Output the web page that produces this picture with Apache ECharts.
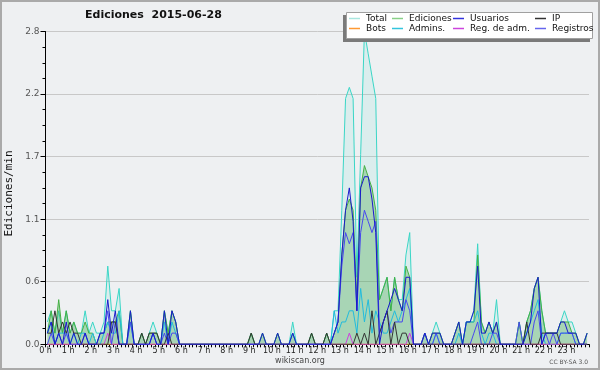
<!DOCTYPE html>
<html><head><meta charset="utf-8">
<script src="https://cdn.jsdelivr.net/npm/echarts@6/dist/echarts.min.js"></script>
<style>html,body{margin:0;padding:0;background:#eef0f2}#c{width:600px;height:370px}</style>
</head><body><div id="c"></div>
<script>
// counts of actions per 10-minute bin (144 bins), one row per hour
const BIN_MINUTES = 10;
const total = [
 2,3,1,3,1,3, 1,2,1,1,3,1, 2,1,1,2,7,3, 3,5,0,0,3,0, 0,1,0,1,2,1, 0,3,1,3,2,0,
 0,0,0,0,0,0, 0,0,0,0,0,0, 0,0,0,0,0,0, 1,0,0,1,0,0, 0,1,0,0,0,2, 0,0,0,0,1,0,
 0,0,1,0,3,3, 12,22,23,22,6,17, 28,26,24,22,4,5, 6,3,6,4,4,8, 10,0,0,0,1,0, 1,2,1,0,0,0,
 1,2,0,2,2,3, 9,2,1,2,1,4, 0,0,0,0,0,2, 0,2,3,5,6,3, 1,1,1,1,2,3, 2,2,1,0,0,1
];
const ediciones = [
 1,3,1,4,1,3, 1,2,1,1,2,1, 1,0,1,1,2,2, 2,3,0,0,3,0, 0,1,0,1,1,1, 0,3,1,3,2,0,
 0,0,0,0,0,0, 0,0,0,0,0,0, 0,0,0,0,0,0, 1,0,0,1,0,0, 0,1,0,0,0,1, 0,0,0,0,1,0,
 0,0,1,0,1,2, 8,12,13,12,4,14, 16,15,14,12,4,5, 6,3,6,4,3,7, 6,0,0,0,1,0, 1,1,1,0,0,0,
 1,2,0,2,2,2, 8,2,1,2,1,2, 0,0,0,0,0,2, 0,2,3,5,6,3, 1,1,1,1,2,2, 2,1,1,0,0,1
];
const usuarios = [
 1,2,0,1,0,2, 0,1,0,0,1,0, 0,0,1,1,4,1, 3,0,0,0,3,0, 0,0,0,0,1,0, 0,3,0,3,2,0,
 0,0,0,0,0,0, 0,0,0,0,0,0, 0,0,0,0,0,0, 0,0,0,1,0,0, 0,1,0,0,0,1, 0,0,0,0,0,0,
 0,0,0,0,1,2, 8,12,14,11,3,14, 15,15,13,10,0,2, 3,4,5,4,3,6, 6,0,0,0,1,0, 1,1,1,0,0,0,
 1,2,0,2,2,3, 7,1,1,2,1,2, 0,0,0,0,0,0, 0,1,2,5,6,0, 1,1,1,1,2,2, 1,1,1,0,0,1
];
const ip = [
 1,1,3,1,2,1, 2,1,1,0,0,0, 0,0,0,0,0,2, 2,0,0,0,0,0, 0,1,0,1,1,1, 0,0,1,0,0,0,
 0,0,0,0,0,0, 0,0,0,0,0,0, 0,0,0,0,0,0, 1,0,0,0,0,0, 0,0,0,0,0,0, 0,0,0,0,1,0,
 0,0,1,0,0,0, 0,0,0,0,1,0, 1,0,3,0,1,2, 3,0,2,0,1,1, 0,0,0,0,0,0, 0,0,0,0,0,0,
 0,0,0,0,0,0, 0,0,0,0,0,0, 0,0,0,0,0,0, 0,2,0,0,0,1, 1,1,1,1,0,0, 0,0,0,0,0,0
];
const bots = new Array(144).fill(0);
const admins = [
 1,2,0,1,1,1, 0,1,0,1,1,0, 1,0,0,1,2,1, 1,3,0,0,2,0, 0,0,0,0,1,0, 0,2,0,2,1,0,
 0,0,0,0,0,0, 0,0,0,0,0,0, 0,0,0,0,0,0, 0,0,0,0,0,0, 0,0,0,0,0,1, 0,0,0,0,0,0,
 0,0,0,0,3,1, 2,2,3,3,1,5, 2,4,1,3,2,1, 1,2,3,2,3,4, 5,0,0,0,0,0, 0,1,0,0,0,0,
 0,1,0,2,2,2, 3,1,0,1,1,0, 0,0,0,0,0,0, 0,1,2,3,4,1, 0,0,0,0,1,1, 1,1,0,0,0,0
];
const regAdm = [
 0,0,0,0,0,0, 0,0,0,0,0,0, 0,0,0,0,1,0, 0,0,0,0,0,0, 0,0,0,0,0,0, 0,0,0,0,0,0,
 0,0,0,0,0,0, 0,0,0,0,0,0, 0,0,0,0,0,0, 0,0,0,0,0,0, 0,0,0,0,0,0, 0,0,0,0,0,0,
 0,0,0,0,0,0, 0,0,1,0,0,0, 0,0,0,0,0,0, 0,0,0,0,0,0, 1,0,0,0,0,0, 0,0,0,0,0,0,
 0,0,0,0,0,0, 0,0,0,0,0,0, 0,0,0,0,0,0, 0,0,0,0,0,0, 0,0,0,0,0,0, 0,0,0,0,0,0
];
const registros = [
 0,1,0,1,0,1, 0,0,0,0,1,0, 0,0,1,1,3,0, 2,0,0,0,2,0, 0,0,0,0,1,0, 0,1,0,1,1,0,
 0,0,0,0,0,0, 0,0,0,0,0,0, 0,0,0,0,0,0, 0,0,0,0,0,0, 0,0,0,0,0,0, 0,0,0,0,0,0,
 0,0,0,0,1,2, 7,10,9,10,3,10, 12,11,10,11,1,2, 3,1,2,2,2,4, 3,0,0,0,1,0, 0,1,0,0,0,0,
 0,0,0,0,0,1, 2,0,0,0,1,1, 0,0,0,0,0,2, 0,0,0,2,3,0, 1,0,1,0,1,1, 1,1,0,0,0,0
];
const yMax = 2.8;
const yTicks = 5;

const chart = echarts.init(document.getElementById('c'));
const pts = arr => arr.map((v, i) => [(i + 0.5) * BIN_MINUTES / 60, v / BIN_MINUTES]);
const F = 'DejaVu Sans';
function line(name, data, color, extra) {
  return Object.assign({
    name, type: 'line', data: pts(data), symbol: 'none', smooth: false,
    lineStyle: { color, width: 1 }, itemStyle: { color }, silent: true, animation: false
  }, extra || {});
}
const legendItems = [
  ['Total', '#a8e6df', 349, 14], ['Ediciones', '#88d088', 392, 14], ['Usuarios', '#3333dd', 453, 14], ['IP', '#333333', 535, 14],
  ['Bots', '#ff9933', 349, 24], ['Admins.', '#33c4dd', 392, 24], ['Reg. de adm.', '#cc44dd', 453, 24], ['Registros', '#6666ee', 535, 24]
];
chart.setOption({
  backgroundColor: '#eef0f2',
  animation: false,
  grid: { left: 45.5, right: 11, top: 31.5, bottom: 25.7 },
  xAxis: {
    type: 'value', min: 0, max: 24, interval: 1,
    axisLine: { lineStyle: { color: '#000', width: 1 } },
    axisTick: { length: 3, lineStyle: { color: '#000' } },
    minorTick: { show: true, splitNumber: 6, length: 3, lineStyle: { color: '#000' } },
    splitLine: { show: false },
    axisLabel: { formatter: v => v < 24 ? v + ' h' : '', fontFamily: F, fontSize: 8, color: '#222', margin: 3 }
  },
  yAxis: {
    type: 'value', min: 0, max: yMax, interval: yMax / yTicks,
    axisLine: { show: true, lineStyle: { color: '#000', width: 1 } },
    axisTick: { show: true, length: 5, lineStyle: { color: '#000' } },
    minorTick: { show: true, splitNumber: 4, length: 3, lineStyle: { color: '#000' } },
    splitLine: { lineStyle: { color: '#c8c8c8', width: 1 } },
    axisLabel: { formatter: v => v.toFixed(1), fontFamily: F, fontSize: 9, color: '#555', margin: 6 }
  },
  legend: legendItems.map(([n, c, x, y]) => ({
    data: [{ name: n, itemStyle: { color: c }, lineStyle: { color: c } }],
    left: x, top: y, itemWidth: 11, itemHeight: 1.5, icon: 'rect', itemGap: 0, padding: 0, z: 100,
    selectedMode: false, textStyle: { fontFamily: F, fontSize: 9, color: '#111', padding: [0, 0, 0, 1] }
  })),
  series: [
    line('Total', total, '#3ad6c6', { areaStyle: { color: 'rgba(64,214,196,0.15)' }, z: 1 }),
    line('Ediciones', ediciones, '#44b044', { areaStyle: { color: 'rgba(60,160,60,0.45)' }, z: 2 }),
    line('Bots', bots, '#ff9933', { z: 3 }),
    line('Admins.', admins, '#22bbdd', { z: 4 }),
    line('Reg. de adm.', regAdm, '#cc44dd', { z: 5 }),
    line('Registros', registros, '#4848ee', { z: 6 }),
    line('IP', ip, '#333333', { z: 7 }),
    line('Usuarios', usuarios, '#1a1acc', { z: 8 })
  ],
  graphic: [
    { type: 'rect', z: 10, shape: { x: 1, y: 1, width: 598, height: 368 }, style: { fill: null, stroke: '#aaaaaa', lineWidth: 2 } },
    { type: 'rect', z: 50, shape: { x: 343, y: 15, width: 247, height: 27 }, style: { fill: '#7a7a7a' } },
    { type: 'rect', z: 51, shape: { x: 346.5, y: 12.5, width: 246, height: 26 }, style: { fill: '#ffffff', stroke: '#a0a0a0', lineWidth: 1 } },
    { type: 'text', z: 60, left: 85, top: 10, style: { text: 'Ediciones  2015-06-28', font: 'bold 11px "DejaVu Sans"', fill: '#111' } },
    { type: 'text', z: 60, x: 9, y: 193.5, rotation: Math.PI / 2, style: { text: 'Ediciones/min', font: '11px "DejaVu Sans Mono"', fill: '#111', textAlign: 'center', textVerticalAlign: 'middle' } },
    { type: 'text', z: 60, x: 300, y: 360.5, style: { text: 'wikiscan.org', font: '8px "DejaVu Sans"', fill: '#444', textAlign: 'center', textVerticalAlign: 'middle' } },
    { type: 'text', z: 60, x: 588, y: 362, style: { text: 'CC BY-SA 3.0', font: '6px "DejaVu Sans"', fill: '#555', textAlign: 'right', textVerticalAlign: 'middle' } }
  ]
});
</script></body></html>
